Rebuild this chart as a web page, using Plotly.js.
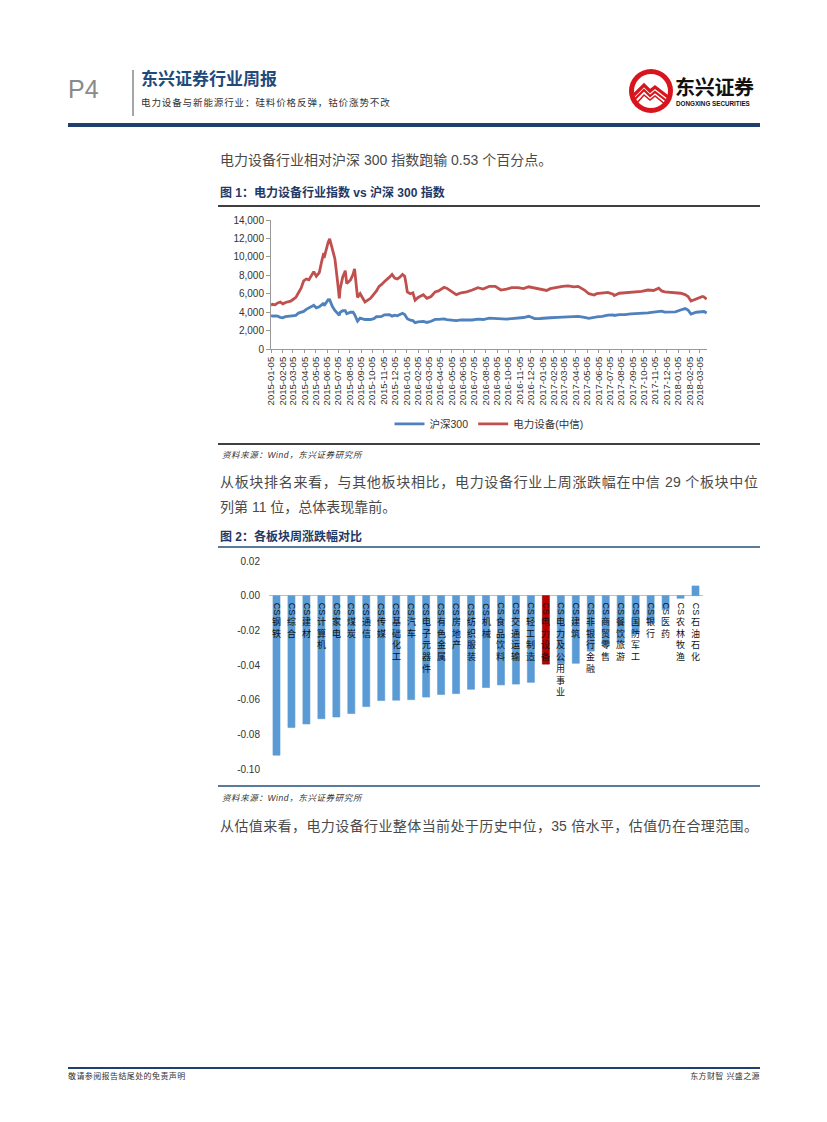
<!DOCTYPE html>
<html>
<head>
<meta charset="utf-8">
<script src="https://cdn.plot.ly/plotly-3.0.1.min.js"></script>
<style>
  html, body { margin: 0; padding: 0; background: #fff; }
  body { width: 827px; height: 1122px; position: relative; overflow: hidden;
         font-family: "Liberation Sans", "Noto Sans CJK SC", sans-serif; color: #333; }
  .abs { position: absolute; white-space: nowrap; }
  .para { font-size: 14px; color: #4a4a4a; line-height: 20px; }
  .figt { font-size: 12px; font-weight: bold; color: #1f3864; line-height: 16px; }
  .src { font-size: 8.5px; font-style: italic; color: #333; line-height: 12px; letter-spacing: 0.6px; }
  .just { text-align: justify; text-align-last: justify; white-space: normal; }
</style>
</head>
<body>
<!-- header -->
<div class="abs" style="left:68px;top:74px;font-size:25px;line-height:30px;color:#8a8a8a;">P4</div>
<div class="abs" style="left:132px;top:70px;width:2px;height:46px;background:#a6a6a6;"></div>
<div class="abs" style="left:141px;top:70px;font-size:17px;font-weight:bold;line-height:20px;color:#1f4a7c;">东兴证券行业周报</div>
<div class="abs" style="left:141px;top:97px;font-size:9.5px;line-height:12px;letter-spacing:0.9px;color:#333;">电力设备与新能源行业：硅料价格反弹，钴价涨势不改</div>
<svg class="abs" style="left:628px;top:68px;" width="46" height="46" viewBox="0 0 46 46">
  <circle cx="23" cy="23" r="22" fill="#d8141c"/>
  <circle cx="23" cy="23" r="17" fill="#fff"/>
  <path d="M6 27 L16 17 L22 23 L27 19 L40 29" stroke="#d8141c" stroke-width="3.2" fill="none"/>
  <path d="M6 32 L16 22 L22 28 L27 24 L40 34" stroke="#d8141c" stroke-width="2.2" fill="none"/>
  <path d="M8 36 L16 27 L22 32 L27 28 L38 37" stroke="#d8141c" stroke-width="1.6" fill="none"/>
</svg>
<div class="abs" style="left:675px;top:77px;font-size:20px;font-weight:bold;line-height:22px;color:#111;letter-spacing:-0.3px;">东兴证券</div>
<div class="abs" style="left:676px;top:100px;font-size:6.3px;font-weight:bold;line-height:8px;color:#111;">DONGXING SECURITIES</div>
<div class="abs" style="left:68px;top:123px;width:692px;height:4px;background:#1f3f6e;"></div>

<!-- paragraph 1 -->
<div class="abs para" style="left:220px;top:150px;">电力设备行业相对沪深 300 指数跑输 0.53 个百分点。</div>
<div class="abs figt" style="left:220px;top:185px;">图 1：电力设备行业指数 vs 沪深 300 指数</div>
<div class="abs" style="left:218px;top:205px;width:542px;height:2px;background:#404040;"></div>
<div id="chart1" class="abs" style="left:210px;top:210px;width:560px;height:230px;"></div>
<div class="abs" style="left:218px;top:443px;width:542px;height:1.5px;background:#404040;"></div>
<div class="abs src" style="left:222px;top:449px;">资料来源：Wind，东兴证券研究所</div>

<div class="abs para just" style="left:220px;top:472px;width:538px;">从板块排名来看，与其他板块相比，电力设备行业上周涨跌幅在中信 29 个板块中位</div>
<div class="abs para" style="left:220px;top:497px;">列第 11 位，总体表现靠前。</div>
<div class="abs figt" style="left:220px;top:529px;">图 2：各板块周涨跌幅对比</div>
<div class="abs" style="left:218px;top:546px;width:542px;height:2px;background:#5a7a99;"></div>
<div id="chart2" class="abs" style="left:210px;top:550px;width:560px;height:234px;"></div>
<div class="abs" style="left:218px;top:785px;width:542px;height:2px;background:#5a7a99;"></div>
<div class="abs src" style="left:222px;top:792px;">资料来源：Wind，东兴证券研究所</div>
<div class="abs para just" style="left:220px;top:816px;width:538px;">从估值来看，电力设备行业整体当前处于历史中位，35 倍水平，估值仍在合理范围。</div>

<!-- footer -->
<div class="abs" style="left:68px;top:1067px;width:692px;height:2px;background:#1f3f6e;"></div>
<div class="abs" style="left:68px;top:1072px;font-size:8px;line-height:10px;letter-spacing:0.4px;color:#333;">敬请参阅报告结尾处的免责声明</div>
<div class="abs" style="right:67px;top:1072px;font-size:8px;line-height:10px;letter-spacing:0.4px;color:#333;">东方财智 兴盛之源</div>

<script>
// ---------- Chart 1 data ----------
const dates = ['2015-01-05','2015-01-09','2015-01-16','2015-01-23','2015-01-30','2015-02-06','2015-02-13','2015-02-27',
'2015-03-06','2015-03-13','2015-03-20','2015-03-27','2015-04-03','2015-04-10','2015-04-17','2015-04-24','2015-04-30',
'2015-05-07','2015-05-15','2015-05-22','2015-05-27','2015-05-28','2015-06-05','2015-06-08','2015-06-12','2015-06-19',
'2015-06-26','2015-07-03','2015-07-08','2015-07-10','2015-07-17','2015-07-24','2015-07-28','2015-08-07','2015-08-14',
'2015-08-18','2015-08-21','2015-08-26','2015-09-02','2015-09-15','2015-09-30','2015-10-09','2015-10-16','2015-10-23',
'2015-10-30','2015-11-06','2015-11-13','2015-11-20','2015-11-27','2015-12-04','2015-12-11','2015-12-18','2015-12-25',
'2015-12-31','2016-01-04','2016-01-07','2016-01-15','2016-01-22','2016-01-28','2016-02-05','2016-02-19','2016-02-29',
'2016-03-11','2016-03-22','2016-03-31','2016-04-15','2016-04-22','2016-04-29','2016-05-18','2016-05-31','2016-06-15',
'2016-06-30','2016-07-15','2016-07-29','2016-08-15','2016-08-31','2016-09-15','2016-09-30','2016-10-14','2016-10-31',
'2016-11-15','2016-11-29','2016-12-15','2016-12-30','2017-01-16','2017-01-26','2017-02-15','2017-02-28','2017-03-15',
'2017-03-31','2017-04-11','2017-04-28','2017-05-10','2017-05-24','2017-05-31','2017-06-15','2017-06-30','2017-07-14',
'2017-07-17','2017-07-31','2017-08-15','2017-08-31','2017-09-15','2017-09-29','2017-10-16','2017-10-31','2017-11-14',
'2017-11-22','2017-11-30','2017-12-15','2017-12-29','2018-01-12','2018-01-24','2018-02-01','2018-02-09','2018-02-23',
'2018-03-06','2018-03-12','2018-03-16','2018-03-23'];
const hs300 = [3641,3570,3580,3560,3434,3380,3520,3580,
3560,3650,3900,4000,4080,4300,4500,4600,4750,
4470,4580,4870,4980,4690,5230,5354,5335,4630,
4190,3890,3663,3970,4150,4150,3820,3990,4000,
3750,3500,3025,3360,3200,3200,3290,3500,3520,
3530,3700,3720,3720,3570,3670,3600,3780,3870,
3731,3470,3285,3120,3080,2853,2950,3000,2880,
3010,3210,3220,3270,3180,3160,3070,3170,3130,
3150,3250,3200,3350,3320,3230,3250,3300,3330,
3420,3550,3300,3310,3320,3390,3440,3450,3460,
3456,3530,3440,3330,3420,3490,3540,3666,3690,
3640,3737,3720,3822,3840,3836,3920,4006,4060,
4112,4006,3980,4030,4230,4389,4220,3800,3990,
4030,4130,4070,3904];
const elec = [4750,4850,4800,5000,5100,4900,5050,5200,
5400,5600,6100,6600,7400,7600,7500,8000,8400,
7900,8300,9600,10400,9900,11300,11600,11950,10700,
9800,7400,5500,6500,7800,8500,7100,7500,8100,
8700,7400,5600,6000,5100,5500,5900,6300,6800,
7000,7300,7500,7800,8100,7700,7600,7800,8100,
7900,7000,6200,6000,6100,5300,5600,5900,5500,
5700,6200,6300,6700,6600,6400,5900,6100,6200,
6400,6650,6500,6800,6800,6400,6500,6650,6650,
6550,6750,6600,6450,6350,6550,6750,6800,6850,
6750,6800,6400,6000,5850,6000,6100,6150,5950,
5800,6050,6100,6150,6200,6250,6400,6350,6600,
6300,6200,6150,6100,6050,5900,5700,5200,5400,
5550,5700,5650,5400];
const dateTicks = ['2015-01-05','2015-02-05','2015-03-05','2015-04-05','2015-05-05','2015-06-05','2015-07-05','2015-08-05',
'2015-09-05','2015-10-05','2015-11-05','2015-12-05','2016-01-05','2016-02-05','2016-03-05','2016-04-05','2016-05-05',
'2016-06-05','2016-07-05','2016-08-05','2016-09-05','2016-10-05','2016-11-05','2016-12-05','2017-01-05','2017-02-05',
'2017-03-05','2017-04-05','2017-05-05','2017-06-05','2017-07-05','2017-08-05','2017-09-05','2017-10-05','2017-11-05',
'2017-12-05','2018-01-05','2018-02-05','2018-03-05'];
const yTicks1 = [0,2000,4000,6000,8000,10000,12000,14000];
const seriesNames = ['沪深300','电力设备(中信)'];

// ---------- Chart 2 data ----------
const sectors = ['钢铁','综合','建材','计算机','家电','煤炭','通信','传媒','基础化工','汽车','电子元器件','有色金属',
'房地产','纺织服装','机械','食品饮料','交通运输','轻工制造','电力设备','电力及公用事业','建筑','非银行金融','商贸零售',
'餐饮旅游','国防军工','银行','医药','农林牧渔','石油石化'];
const weeklyChange = [-0.092,-0.076,-0.074,-0.071,-0.070,-0.068,-0.064,-0.0605,-0.0603,-0.060,-0.0585,-0.057,
-0.0565,-0.054,-0.053,-0.0515,-0.051,-0.050,-0.0395,-0.0393,-0.039,-0.032,-0.029,
-0.027,-0.022,-0.016,-0.008,-0.0015,0.0056];
const highlight = '电力设备';
const prefix = 'CS';
const yTicks2 = [0.02,0,-0.02,-0.04,-0.06,-0.08,-0.10];
const yTickText2 = ['0.02','0.00','-0.02','-0.04','-0.06','-0.08','-0.10'];

const latin = 'Liberation Sans, Noto Sans CJK SC, sans-serif';
const cjk = 'Noto Sans CJK SC, sans-serif';

// ---------- Chart 1 ----------
Plotly.newPlot('chart1', [
  {x: dates, y: hs300, type: 'scatter', mode: 'lines', name: seriesNames[0],
   line: {color: '#4f81bd', width: 2.8}},
  {x: dates, y: elec, type: 'scatter', mode: 'lines', name: seriesNames[1],
   line: {color: '#c0504d', width: 2.8}}
], {
  width: 560, height: 230,
  margin: {l: 61, r: 63, t: 10, b: 91},
  paper_bgcolor: '#fff', plot_bgcolor: '#fff',
  font: {family: latin, color: '#333', size: 10},
  showlegend: true,
  legend: {orientation: 'h', x: 0.5, xanchor: 'center', xref: 'paper',
           yref: 'container', y: 0.07, yanchor: 'middle',
           font: {family: latin, size: 10.5, color: '#333'}, itemwidth: 30, tracegroupgap: 0},
  xaxis: {type: 'date', range: ['2015-01-05', '2018-03-24'],
          tickvals: dateTicks, ticktext: dateTicks, tickangle: -90,
          tickfont: {family: latin, size: 9.5, color: '#333'},
          ticks: 'outside', ticklen: 3, tickcolor: '#999',
          showline: true, linecolor: '#999', linewidth: 1, showgrid: false, zeroline: false, automargin: false},
  yaxis: {range: [0, 14000], tickvals: yTicks1, tickformat: ',d',
          tickfont: {family: latin, size: 10, color: '#333'},
          ticks: 'outside', ticklen: 4, tickcolor: '#999', automargin: false,
          showline: true, linecolor: '#999', linewidth: 1, showgrid: false, zeroline: false}
}, {staticPlot: true, displayModeBar: false});

// ---------- Chart 2 ----------
const barColors = sectors.map(s => s === highlight ? '#c00000' : '#5b9bd5');
const barLine = sectors.map(s => s === highlight ? '#7a0000' : '#5b9bd5');
const annotations = [];
sectors.forEach((s) => {
  annotations.push({x: s, y: 0, xref: 'x', yref: 'y', text: prefix, textangle: 90, showarrow: false,
    xanchor: 'center', yanchor: 'top', yshift: -6, borderpad: 0,
    font: {family: latin, size: 9, color: '#111'}});
  annotations.push({x: s, y: 0, xref: 'x', yref: 'y', text: Array.from(s).join('<br>'), showarrow: false,
    xanchor: 'center', yanchor: 'top', yshift: -18.5, borderpad: 0,
    font: {family: cjk, size: 9, color: '#111'}});
});
Plotly.newPlot('chart2', [
  {x: sectors, y: weeklyChange, type: 'bar', width: 0.47,
   marker: {color: barColors, line: {color: barLine, width: 0.6}}, hoverinfo: 'none'}
], {
  width: 560, height: 234,
  margin: {l: 59, r: 67, t: 11, b: 15},
  paper_bgcolor: '#fff', plot_bgcolor: '#fff',
  showlegend: false,
  font: {family: latin, color: '#333', size: 10},
  xaxis: {type: 'category', range: [-0.5, 28.5], showticklabels: false, showline: false,
          showgrid: false, zeroline: false, ticks: ''},
  yaxis: {range: [-0.10, 0.02], tickvals: yTicks2, ticktext: yTickText2,
          tickfont: {family: latin, size: 10, color: '#333'}, ticks: '', ticklabelstandoff: 8,
          showline: false, showgrid: false, zeroline: true, zerolinecolor: '#bfbfbf', zerolinewidth: 1},
  annotations: annotations
}, {staticPlot: true, displayModeBar: false});
</script>
</body>
</html>
